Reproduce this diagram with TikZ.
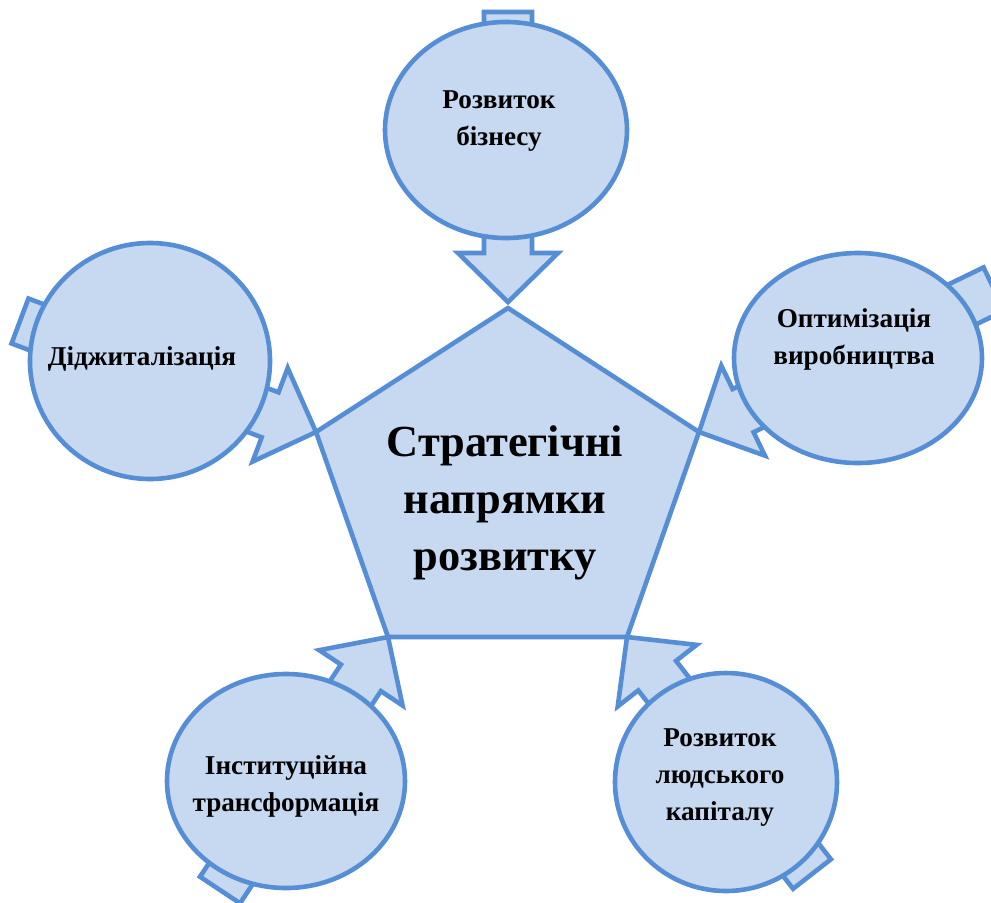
\documentclass[tikz,border=0pt]{standalone}
\usepackage{fontspec}
\setmainfont{Liberation Serif}
\usetikzlibrary{calc,shapes.geometric}
\definecolor{edgeblue}{RGB}{85,142,213}
\definecolor{fillblue}{RGB}{198,217,241}

\begin{document}
\begin{tikzpicture}[x=0.5pt,y=-0.5pt]
  \tikzstyle{bluefill}=[draw=edgeblue,fill=fillblue,line width=2.3pt]
  \tikzstyle{bubble}=[ellipse,bluefill,inner sep=0pt]
  \tikzstyle{small}=[align=center,inner sep=0pt,anchor=north,font=\bfseries\fontsize{13.6}{18.5}\selectfont]
  \tikzstyle{big}=[align=center,inner sep=0pt,anchor=north,font=\bfseries\fontsize{22.2}{28.5}\selectfont]
  \useasboundingbox (0,0) rectangle (991,902);
  % corners of the pentagon
  \coordinate (v1) at (508,308);
  \coordinate (v2) at (699,432);
  \coordinate (v3) at (627,637);
  \coordinate (v4) at (388,637);
  \coordinate (v5) at (316,432);
  \coordinate (h1) at (508,302);
  % tails of the arrows
  \coordinate (t1) at (508,12);
  \coordinate (t2) at (994,289);
  \coordinate (t3) at (812,874);
  \coordinate (t4) at (220,890);
  \coordinate (t5) at (20,321);
  \foreach \t/\h in {t1/h1,t2/v2,t3/v3,t4/v4,t5/v5}
    \draw[bluefill] ($(\t)!12pt!90:(\h)$) -- ($(\h)!24.5pt!(\t)!12pt!90:(\h)$)
      -- ($(\h)!24.5pt!(\t)!25pt!90:(\h)$) -- (\h)
      -- ($(\h)!24.5pt!(\t)!25pt!-90:(\h)$) -- ($(\h)!24.5pt!(\t)!12pt!-90:(\h)$)
      -- ($(\t)!12pt!-90:(\h)$) -- cycle;
  \node[bubble,minimum width=121pt,minimum height=108pt] (biz) at (506,130) {};
  \node[bubble,minimum width=124pt,minimum height=105pt] (opt) at (858,358) {};
  \node[bubble,minimum width=111pt,minimum height=109pt] (hum) at (726,782) {};
  \node[bubble,minimum width=119pt,minimum height=107pt] (inst) at (286,781) {};
  \node[bubble,minimum width=120pt,minimum height=118pt] (dig) at (150,361) {};
  \draw[bluefill] (v1) -- (v2) -- (v3) -- (v4) -- (v5) -- cycle;
  \node[small] (biztext) at (499,90) {Розвиток\\бізнесу};
  \node[small] (opttext) at (854,308) {Оптимізація\\виробництва};
  \node[small] (humtext) at (720,728) {Розвиток\\людського\\капіталу};
  \node[small] (insttext) at (286,755) {Інституційна\\трансформація};
  \node[small] (digtext) at (142,346) {Діджиталізація};
  \node[big] (title) at (505,425) {Стратегічні\\напрямки\\розвитку};
\end{tikzpicture}
\end{document}
